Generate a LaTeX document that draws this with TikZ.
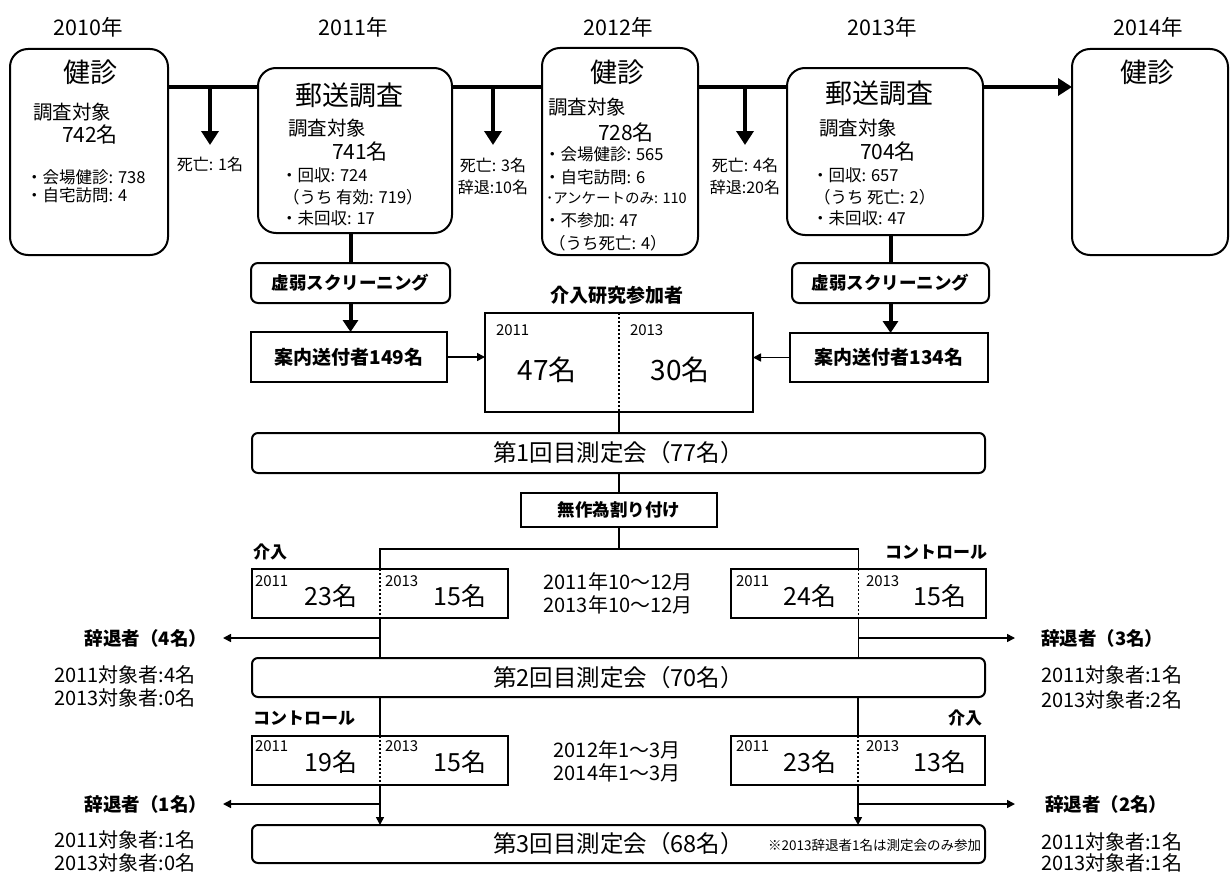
\documentclass[tikz,border=0pt]{standalone}
\usepackage{fontspec}
\setmainfont{Noto Sans CJK JP}
\usetikzlibrary{arrows.meta}
\begin{document}
\begin{tikzpicture}[x=1pt,y=-1pt,
  every node/.style={inner sep=0pt, outer sep=0pt},
  fs/.style={font=\fontsize{#1}{#1}\selectfont},
  bfs/.style={font=\fontsize{#1}{#1}\selectfont\bfseries},
  roundbox/.style={draw, line width=2pt, rounded corners=18pt},
  smallbox/.style={draw, line width=2pt, rounded corners=7pt},
  sqbox/.style={draw, line width=2pt},
  fat/.style={line width=4pt},
  fatarrow/.style={line width=4pt, -{Triangle[width=17pt,length=14pt]}},
  midarrow/.style={line width=4pt, -{Triangle[width=15pt,length=12pt]}},
  conn/.style={line width=1.6pt},
  conarrow/.style={line width=1.6pt, -{Triangle[width=8pt,length=8pt]}},
  divider/.style={line width=1.5pt, dash pattern=on 2pt off 2pt},
  itm/.style={fs=16.5, anchor=west},
  lbl/.style={fs=19.5, anchor=west},
  yr/.style={fs=15, anchor=west},
]
\useasboundingbox (0,0) rectangle (1230,875);

% year labels
\node[fs=21.5] (y0) at (88,27) {2010年};
\node[fs=21.5] (y1) at (353,27) {2011年};
\node[fs=21.5] (y2) at (618,27) {2012年};
\node[fs=21.5] (y3) at (882,27) {2013年};
\node[fs=21.5] (y4) at (1148,27) {2014年};

% top boxes
\node[roundbox, minimum width=158pt, minimum height=206pt] (b1) at (89,152) {};
\node[roundbox, minimum width=194pt, minimum height=165pt] (b2) at (355,150.5) {};
\node[roundbox, minimum width=156pt, minimum height=207pt] (b3) at (620,151.5) {};
\node[roundbox, minimum width=196pt, minimum height=167pt] (b4) at (885,151.5) {};
\node[roundbox, minimum width=156pt, minimum height=206pt] (b5) at (1150,152) {};

% box 1
\node[fs=27] (b1h) at (90,72) {健診};
\node[lbl] (b1a) at (33,112) {調査対象};
\node[fs=21] (b1n) at (90,135) {742名};
\node[itm] (b1i1) at (26,177) {・会場健診: 738};
\node[itm] (b1i2) at (26,195) {・自宅訪問: 4};

% box 2
\node[fs=27] (b2h) at (349,95) {郵送調査};
\node[lbl] (b2a) at (288,128) {調査対象};
\node[fs=21] (b2n) at (360,152) {741名};
\node[itm] (b2i1) at (281,175) {・回収: 724};
\node[itm] (b2i2) at (283,197) {（うち 有効: 719）};
\node[itm] (b2i3) at (281,218) {・未回収: 17};

% box 3
\node[fs=27] (b3h) at (617,72) {健診};
\node[lbl] (b3a) at (548,107) {調査対象};
\node[fs=21] (b3n) at (626,133) {728名};
\node[itm] (b3i1) at (544,154) {・会場健診: 565};
\node[itm] (b3i2) at (544,177) {・自宅訪問: 6};
\node[fs=14.5, anchor=west] (b3i3) at (546,198) {･アンケートのみ: 110};
\node[itm] (b3i4) at (544,220) {・不参加: 47};
\node[itm] (b3i5) at (549,243) {（うち死亡: 4）};

% box 4
\node[fs=27] (b4h) at (879,93) {郵送調査};
\node[lbl] (b4a) at (819,128) {調査対象};
\node[fs=21] (b4n) at (888,152) {704名};
\node[itm] (b4i1) at (812,175) {・回収: 657};
\node[itm] (b4i2) at (814,197) {（うち 死亡: 2）};
\node[itm] (b4i3) at (812,218) {・未回収: 47};

% box 5
\node[fs=27] (b5h) at (1147,72) {健診};

% timeline
\draw[fat] (b1.east |- 0,87) -- (b2.west |- 0,87);
\draw[fat] (b2.east |- 0,87) -- (b3.west |- 0,87);
\draw[fat] (b3.east |- 0,87) -- (b4.west |- 0,87);
\draw[fatarrow] (b4.east |- 0,87) -- (b5.west |- 0,87);

\coordinate (j1) at (210,87); \coordinate (j1e) at (210,145);
\coordinate (j2) at (493,87); \coordinate (j2e) at (493,145);
\coordinate (j3) at (745,87); \coordinate (j3e) at (745,145);
\draw[fatarrow] (j1) -- (j1e);
\draw[fatarrow] (j2) -- (j2e);
\draw[fatarrow] (j3) -- (j3e);

\node[fs=16] (d1) at (210,164) {死亡: 1名};
\node[fs=16] (d2a) at (493,165) {死亡: 3名};
\node[fs=16] (d2b) at (493,187) {辞退:10名};
\node[fs=16] (d3a) at (745,165) {死亡: 4名};
\node[fs=16] (d3b) at (745,187) {辞退:20名};

% screening
\node[smallbox, minimum width=199pt, minimum height=40pt, bfs=17.5] (s1) at (350.5,283) {虚弱スクリーニング};
\node[sqbox, minimum width=196pt, minimum height=50pt, bfs=19] (a1) at (349,357) {案内送付者149名};
\node[smallbox, minimum width=197pt, minimum height=40pt, bfs=17.5] (s2) at (890.5,283) {虚弱スクリーニング};
\node[sqbox, minimum width=198pt, minimum height=49pt, bfs=19] (a2) at (889,357.5) {案内送付者134名};
\draw[fat] (s1.north |- b2.south) -- (s1.north);
\draw[fat] (s2.north |- b4.south) -- (s2.north);
\draw[midarrow] (s1.south) -- (s1.south |- a1.north);
\draw[midarrow] (s2.south) -- (s2.south |- a2.north);

% participants
\node[bfs=19] (plbl) at (617,295) {介入研究参加者};
\node[sqbox, minimum width=268pt, minimum height=99pt] (p) at (619,362.5) {};
\draw[divider] (p.north) -- (p.south);
\node[yr] (p11) at (496,330) {2011};
\node[yr] (p13) at (630,330) {2013};
\node[fs=28] (p47) at (547,370) {47名};
\node[fs=28] (p30) at (680,370) {30名};
\draw[conarrow] (a1.east) -- (a1.east -| p.west);
\draw[conarrow] (a2.west) -- (a2.west -| p.east);

% first measurement
\node[draw, line width=2pt, rounded corners=6pt, minimum width=733pt, minimum height=40pt, fs=23.5] (m1) at (618.5,453) {第1回目測定会（77名）};
\draw[conn] (p.south) -- (p.south |- m1.north);
\node[sqbox, minimum width=196pt, minimum height=34pt, bfs=17.5] (r) at (619,510) {無作為割り付け};
\draw[conn] (r.north |- m1.south) -- (r.north);
\coordinate (sp) at (619,549);
\draw[conn] (r.south) -- (sp);

% groups round 1
\node[sqbox, minimum width=256pt, minimum height=49pt] (g1) at (380,593.5) {};
\node[sqbox, minimum width=255pt, minimum height=49pt] (g2) at (858.5,593.5) {};
\draw[conn] (g1.north) |- (sp) -| (g2.north);
\draw[divider] (g1.north) -- (g1.south);
\draw[divider] (g2.north) -- (g2.south);
\node[bfs=17, anchor=west] (l1) at (253,552) {介入};
\node[bfs=17, anchor=east] (l2) at (987,552) {コントロール};
\node[yr] (g1a) at (255,581) {2011};
\node[fs=25] (g1b) at (331,596) {23名};
\node[yr] (g1c) at (385,581) {2013};
\node[fs=25] (g1d) at (460,596) {15名};
\node[yr] (g2a) at (736,581) {2011};
\node[fs=25] (g2b) at (810,596) {24名};
\node[yr] (g2c) at (866,581) {2013};
\node[fs=25] (g2d) at (940,596) {15名};
\node[fs=20] (t1) at (618,582) {2011年10～12月};
\node[fs=20] (t2) at (618,605) {2013年10～12月};

% second measurement
\node[draw, line width=2pt, rounded corners=6pt, minimum width=733pt, minimum height=39pt, fs=23.5] (m2) at (618.5,677.5) {第2回目測定会（70名）};
\draw[conn] (g1.south) -- (g1.south |- m2.north);
\draw[conn] (g2.south) -- (g2.south |- m2.north);
\node[bfs=18.5, anchor=east, inner xsep=16pt] (w1) at (223,638) {辞退者（4名）};
\node[bfs=18.5, anchor=west, inner xsep=26pt] (w2) at (1015,638) {辞退者（3名）};
\draw[conarrow] (g1.south |- w1.east) -- (w1.east);
\draw[conarrow] (g2.south |- w2.west) -- (w2.west);
\node[fs=20] (c1) at (125,675) {2011対象者:4名};
\node[fs=20] (c2) at (125,698) {2013対象者:0名};
\node[fs=20, anchor=west] (c3) at (1041,675) {2011対象者:1名};
\node[fs=20, anchor=west] (c4) at (1041,700) {2013対象者:2名};

% groups round 2
\node[sqbox, minimum width=256pt, minimum height=49pt] (g3) at (380,760.5) {};
\node[sqbox, minimum width=254pt, minimum height=49pt] (g4) at (858,760.5) {};
\draw[conn] (g3.north |- m2.south) -- (g3.north);
\draw[conn] (g4.north |- m2.south) -- (g4.north);
\draw[divider] (g3.north) -- (g3.south);
\draw[divider] (g4.north) -- (g4.south);
\node[bfs=17, anchor=west] (l3) at (253,718) {コントロール};
\node[bfs=17, anchor=east] (l4) at (982,718) {介入};
\node[yr] (g3a) at (255,746) {2011};
\node[fs=25] (g3b) at (331,762) {19名};
\node[yr] (g3c) at (385,746) {2013};
\node[fs=25] (g3d) at (460,762) {15名};
\node[yr] (g4a) at (736,746) {2011};
\node[fs=25] (g4b) at (810,762) {23名};
\node[yr] (g4c) at (866,746) {2013};
\node[fs=25] (g4d) at (940,762) {13名};
\node[fs=20] (t3) at (617,750) {2012年1～3月};
\node[fs=20] (t4) at (617,773) {2014年1～3月};

% third measurement
\node[draw, line width=2pt, rounded corners=6pt, minimum width=733pt, minimum height=38pt, fs=23.5] (m3) at (618.5,844) {第3回目測定会（68名）};
\node[fs=13.5, anchor=east] (note) at (981,845) {※2013辞退者1名は測定会のみ参加};
\draw[conarrow] (g3.south) -- (g3.south |- m3.north);
\draw[conarrow] (g4.south) -- (g4.south |- m3.north);
\node[bfs=18.5, anchor=east, inner xsep=16pt] (w3) at (223,804) {辞退者（1名）};
\node[bfs=18.5, anchor=west, inner xsep=30pt] (w4) at (1015,804) {辞退者（2名）};
\draw[conarrow] (g3.south |- w3.east) -- (w3.east);
\draw[conarrow] (g4.south |- w4.west) -- (w4.west);
\node[fs=20] (c5) at (125,840) {2011対象者:1名};
\node[fs=20] (c6) at (125,863) {2013対象者:0名};
\node[fs=20, anchor=west] (c7) at (1041,842) {2011対象者:1名};
\node[fs=20, anchor=west] (c8) at (1041,863) {2013対象者:1名};
\end{tikzpicture}
\end{document}
